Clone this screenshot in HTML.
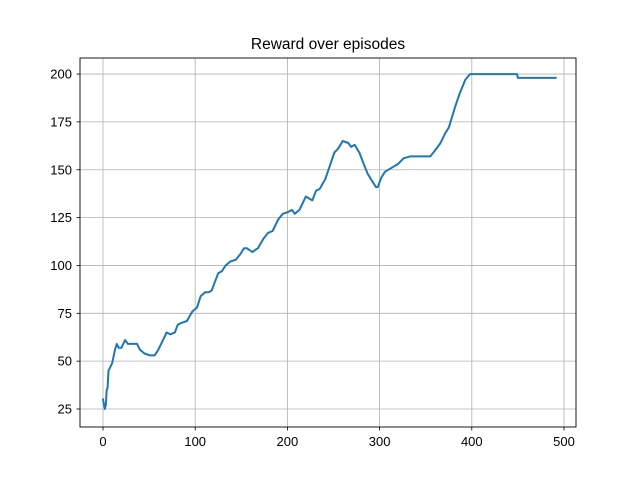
<!DOCTYPE html>
<html>
<head>
<meta charset="utf-8">
<style>
  html,body{margin:0;padding:0;background:#fff;}
  svg{display:block;font-family:"Liberation Sans","DejaVu Sans",sans-serif;}
</style>
</head>
<body>
<svg id="chart" width="640" height="480" viewBox="0 0 640 480" xmlns="http://www.w3.org/2000/svg">
  <rect x="0" y="0" width="640" height="480" fill="#fff"/>
  <text x="328" y="49" text-anchor="middle" font-size="15.5" fill="#000">Reward over episodes</text>
  <g id="grid"></g>
  <g id="series"></g>
  <rect x="80" y="58" width="496" height="369" fill="none" stroke="#000" stroke-width="0.9"/>
  <g id="axes"></g>
</svg>
<script>
const episodes = [0,2,3,4,5,6,10,13,15,17,20,24,27,31,37,40,45,51,56,60,63,66,69,73,78,81,85,91,97,102,106,111,115,118,121,125,129,133,138,144,149,153,156,162,165,168,174,179,184,190,195,201,205,208,213,217,220,227,231,235,241,246,251,255,260,266,269,273,278,282,287,292,296,298,302,306,313,320,326,333,339,355,360,366,371,375,382,387,393,398,409,449,450,491];
const rewards = [30,25,27,35,36,45,49,56,59,57,57,61,59,59,59,56,54,53,53,56,59,62,65,64,65,69,70,71,76,78,84,86,86,87,91,96,97,100,102,103,106,109,109,107,108,109,114,117,118,124,127,128,129,127,129,133,136,134,139,140,145,152,159,161,165,164,162,163,159,154,148,144,141,141,146,149,151,153,156,157,157,157,160,164,169,172,183,190,197,200,200,200,198,198];
const xTicks = [0,100,200,300,400,500];
const yTicks = [25,50,75,100,125,150,175,200];

const NS = "http://www.w3.org/2000/svg";
function xs(v){ return 103 + v * 0.922; }
function ys(v){ return 409 - (v - 25) * 1.914; }
function mk(tag, attrs, parent){
  const e = document.createElementNS(NS, tag);
  for (const k in attrs) e.setAttribute(k, attrs[k]);
  parent.appendChild(e);
  return e;
}
const grid = document.getElementById('grid');
const axes = document.getElementById('axes');
const series = document.getElementById('series');

xTicks.forEach(t => {
  const x = xs(t);
  const g = mk('line', {x1:x, x2:x, y1:58, y2:427, stroke:'#b0b0b0', 'stroke-width':0.8}, grid);
  
  
  const tk = mk('line', {x1:x, x2:x, y1:427, y2:430.5, stroke:'#000', 'stroke-width':0.8}, axes);
  
  
  const lb = mk('text', {x:x, y:446, 'text-anchor':'middle', 'font-size':13, fill:'#000'}, axes);
  lb.textContent = t;
  
  
});
yTicks.forEach(t => {
  const y = ys(t);
  const g = mk('line', {x1:80, x2:576, y1:y, y2:y, stroke:'#b0b0b0', 'stroke-width':0.8}, grid);
  
  
  const tk = mk('line', {x1:76.5, x2:80, y1:y, y2:y, stroke:'#000', 'stroke-width':0.8}, axes);
  
  
  const lb = mk('text', {x:72, y:y+4.5, 'text-anchor':'end', 'font-size':13, fill:'#000'}, axes);
  lb.textContent = t;
  
  
});

const pts = episodes.map((e,i) => xs(e).toFixed(1) + ',' + ys(rewards[i]).toFixed(1)).join(' ');
const line = mk('polyline', {points:pts, fill:'none', stroke:'#1f77b4', 'stroke-width':2, 'stroke-linejoin':'round', 'stroke-linecap':'square'}, series);


</script>
</body>
</html>
